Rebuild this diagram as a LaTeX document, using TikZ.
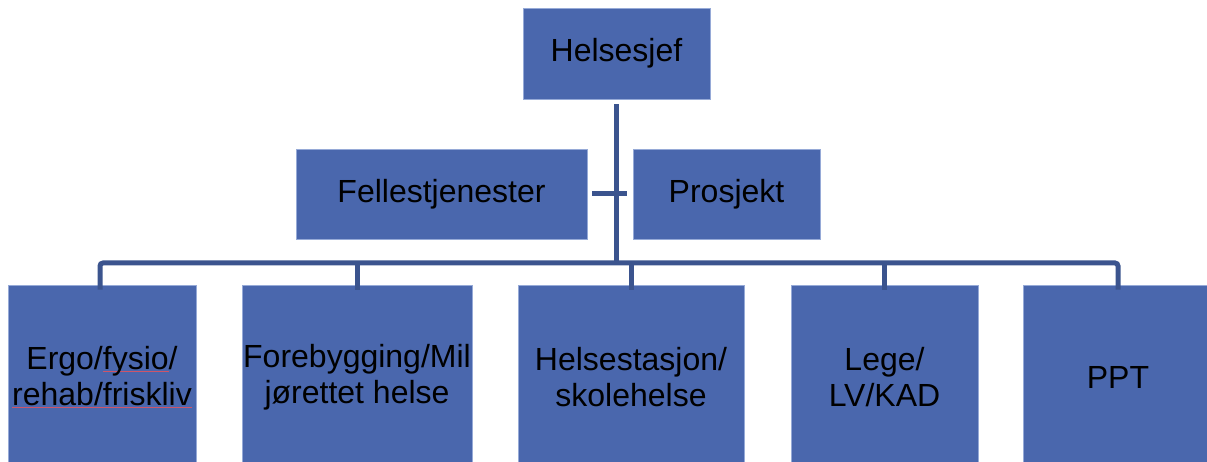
\documentclass[tikz,border=0pt]{standalone}
\usepackage{fontspec}
\setmainfont{Liberation Sans}
\definecolor{boxfill}{RGB}{74,103,173}
\definecolor{boxedge}{RGB}{150,170,215}
\definecolor{connc}{RGB}{59,84,142}
\definecolor{spell}{RGB}{205,85,105}
\newcommand\spellmark[1]{\setbox0\hbox{#1}\rlap{\color{spell}\rule[-1.8pt]{\wd0}{0.9pt}}\box0}
\begin{document}
\begin{tikzpicture}[x=1pt,y=-1pt,
  orgbox/.style={draw=boxedge,line width=0.6pt,fill=boxfill,text=black,inner sep=0pt,
    align=center,font=\fontsize{32}{36}\selectfont},
  conn/.style={draw=connc,line width=5pt}]
\useasboundingbox (0,0) rectangle (1207,462);
\begin{scope}
\clip (0,0) rectangle (1207,462);
\node[orgbox,minimum width=187pt,minimum height=91pt] (hs) at (616.5,53.5) {Helsesjef};
\node[orgbox,minimum width=291pt,minimum height=90pt] (fj) at (441.5,194) {Fellestjenester};
\node[orgbox,minimum width=187pt,minimum height=90pt] (pr) at (726.5,194) {Prosjekt};
\node[orgbox,minimum width=188pt,minimum height=184pt] (b1) at (102,377) {Ergo/\spellmark{fysio}/\\\spellmark{rehab/friskliv}};
\node[orgbox,minimum width=230pt,minimum height=184pt] (b2) at (357,377) {Forebygging/Mil\\jørettet helse};
\node[orgbox,minimum width=226pt,minimum height=184pt] (b3) at (631,377) {Helsestasjon/\\skolehelse};
\node[orgbox,minimum width=187pt,minimum height=184pt] (b4) at (884.5,377) {Lege/\\LV/KAD};
\node[orgbox,minimum width=190pt,minimum height=184pt] (b5) at (1118,377) {PPT};
\end{scope}
\coordinate (busL) at (100,263);
\coordinate (busR) at (1118,263);
% vertical trunk from Helsesjef to the bus
\draw[conn] ([yshift=-5pt]hs.south) -- (hs.south |- busL);
% small link between Fellestjenester and Prosjekt
\draw[conn] ([xshift=5pt]fj.east) -- ([xshift=-6pt]pr.west);
% bus with rounded ends down to the outer boxes
\draw[conn,rounded corners=3pt] ([yshift=-5pt]b1.north -| busL) -- (busL) -- (busR) -- ([yshift=-5pt]b5.north);
\draw[conn] (b2.north |- busL) -- ([yshift=-5pt]b2.north);
\draw[conn] (b3.north |- busL) -- ([yshift=-5pt]b3.north);
\draw[conn] (b4.north |- busL) -- ([yshift=-5pt]b4.north);
\end{tikzpicture}
\end{document}
